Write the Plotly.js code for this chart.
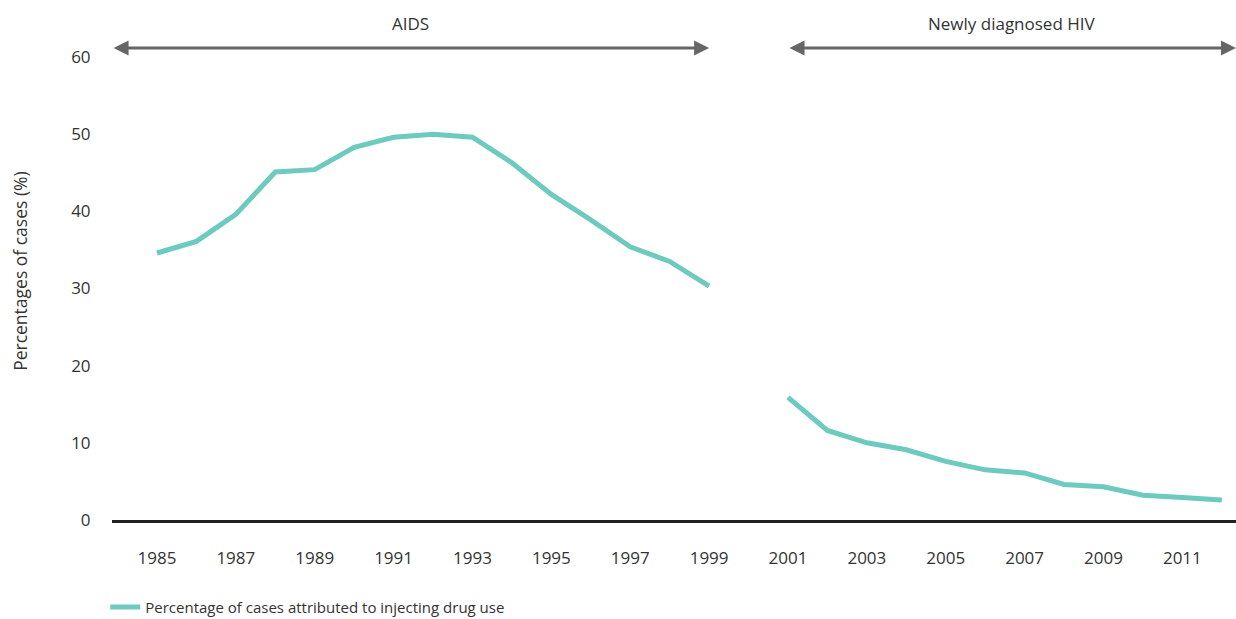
<!DOCTYPE html>
<html>
<head>
<meta charset="utf-8">
<script src="https://cdn.plot.ly/plotly-3.0.1.min.js"></script>
<style>html,body{margin:0;padding:0;background:#fff;}#chart{width:1236px;height:619px;}</style>
</head>
<body>
<div id="chart"></div>
<script>
// Data
const aidsYears = [1985,1986,1987,1988,1989,1990,1991,1992,1993,1994,1995,1996,1997,1998,1999];
const aidsPct   = [34.6,36.1,39.6,45.1,45.4,48.3,49.6,50.0,49.6,46.3,42.2,38.9,35.4,33.5,30.3];
const hivYears  = [2001,2002,2003,2004,2005,2006,2007,2008,2009,2010,2011,2012];
const hivPct    = [15.9,11.6,10.0,9.1,7.6,6.5,6.1,4.6,4.3,3.2,2.9,2.6];
const xTickVals = [1985,1987,1989,1991,1993,1995,1997,1999,2001,2003,2005,2007,2009,2011];
const yTickVals = [0,10,20,30,40,50,60];
const seriesName = 'Percentage of cases attributed to injecting drug use';
const periodLabels = ['AIDS', 'Newly diagnosed HIV'];
const yTitle = 'Percentages of cases (%)';

const xRange = [1983.86, 2012.36];
const xs = aidsYears.concat([2000], hivYears);
const ys = aidsPct.concat([null], hivPct);

const font = '"Open Sans", "Noto Sans", sans-serif';
const txt = '#333333';
const teal = '#6dcabf';
const arrowColor = '#666666';

const trace = {
  x: xs, y: ys, type: 'scatter', mode: 'lines', name: seriesName,
  connectgaps: false,
  line: {color: teal, width: 5},
  showlegend: true
};

const arrowYPaper = 1.0194;
const labelYPaper = 1.0713;
const spans = [[xRange[0] + 0.001, aidsYears[aidsYears.length-1]], [hivYears[0], xRange[1] - 0.001]];

const annotations = [];
spans.forEach((s, i) => {
  annotations.push({
    x: s[1], y: arrowYPaper, ax: s[0], ay: 0, xref: 'x', yref: 'paper', axref: 'x', ayref: 'pixel',
    text: '', showarrow: true, arrowside: 'end+start', arrowhead: 2, startarrowhead: 2,
    arrowsize: 1, startarrowsize: 1, arrowwidth: 3, arrowcolor: arrowColor, standoff: 0, startstandoff: 0
  });
  annotations.push({
    x: (s[0] + s[1]) / 2, y: labelYPaper, xref: 'x', yref: 'paper', text: periodLabels[i], showarrow: false,
    font: {family: font, size: 17, color: txt}, xanchor: 'center', yanchor: 'middle'
  });
});
// y-axis title (placed as rotated text, slightly above the plot centre as in the reference)
annotations.push({
  x: -0.0819, y: 0.538, xref: 'paper', yref: 'paper', text: yTitle, textangle: -90, showarrow: false,
  font: {family: font, size: 17.5, color: txt}, xanchor: 'center', yanchor: 'middle'
});

const layout = {
  width: 1236, height: 619,
  margin: {l: 112, r: 0, t: 57, b: 99},
  paper_bgcolor: '#ffffff', plot_bgcolor: '#ffffff',
  font: {family: font, size: 17, color: txt},
  xaxis: {
    range: xRange, tickvals: xTickVals, ticktext: xTickVals.map(String),
    showgrid: false, zeroline: false, showline: true, linecolor: '#222222', linewidth: 3,
    ticks: 'outside', ticklen: 21, tickcolor: 'rgba(0,0,0,0)',
    tickfont: {family: font, size: 17, color: txt}, fixedrange: true
  },
  yaxis: {
    range: [0, 60], tickvals: yTickVals, showgrid: false, zeroline: false, showline: false,
    ticks: 'outside', ticklen: 17, tickcolor: 'rgba(0,0,0,0)',
    tickfont: {family: font, size: 17, color: txt},
    fixedrange: true
  },
  showlegend: true,
  legend: {
    orientation: 'h', x: -0.006, xanchor: 'left', yref: 'container', y: 0.019, yanchor: 'middle',
    font: {family: font, size: 15, color: txt}, bgcolor: 'rgba(0,0,0,0)'
  },
  annotations: annotations
};

Plotly.newPlot('chart', [trace], layout, {displayModeBar: false, staticPlot: true});
</script>
</body>
</html>
